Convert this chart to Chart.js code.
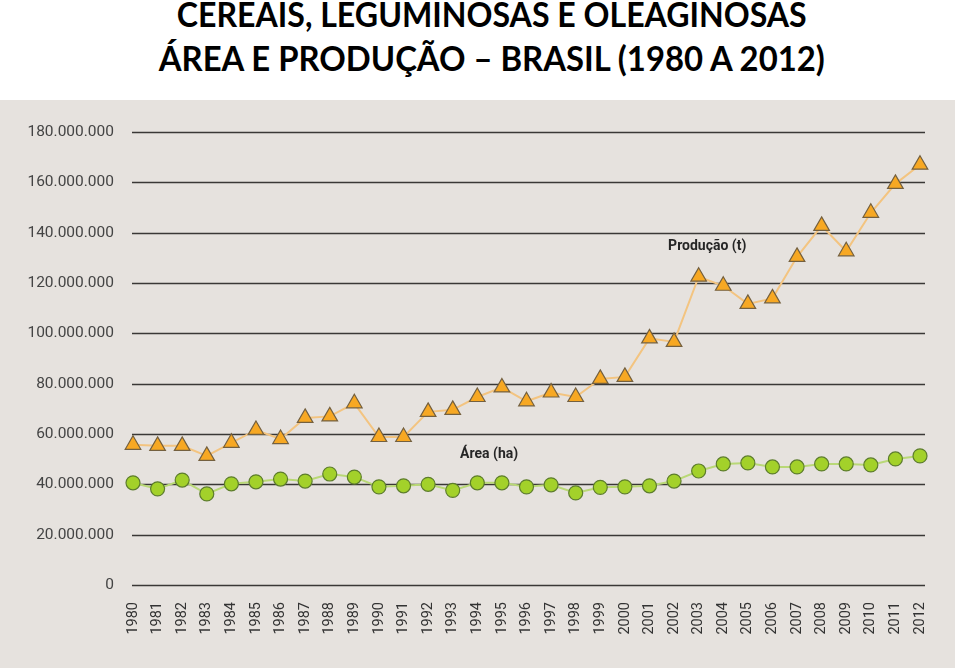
<!DOCTYPE html>
<html>
<head>
<meta charset="utf-8">
<script src="https://cdn.jsdelivr.net/npm/chart.js@4.4.1/dist/chart.umd.min.js"></script>
<style>
  body { margin: 0; background: #fff; width: 960px; height: 671px; overflow: hidden; position: relative; }
  #title { position: absolute; left: 12px; top: -8px; width: 960px; text-align: center;
           font-family: Lato, "Open Sans", sans-serif; font-weight: bold; font-size: 34px;
           line-height: 44px; color: #000; }
  #title span { display: inline-block; white-space: nowrap; transform-origin: center; }
  #panel { position: absolute; left: 0; top: 100px; width: 955px; height: 568px; background: #e6e2de; }
</style>
</head>
<body>
<div id="title">
  <div><span data-w="630">CEREAIS, LEGUMINOSAS E OLEAGINOSAS</span></div>
  <div><span data-w="666">ÁREA E PRODUÇÃO – BRASIL (1980 A 2012)</span></div>
</div>
<div id="panel"><canvas id="grafico" width="955" height="568"></canvas></div>
<script>
// ----- dados -----
const anos = ['1980','1981','1982','1983','1984','1985','1986','1987','1988','1989',
              '1990','1991','1992','1993','1994','1995','1996','1997','1998','1999',
              '2000','2001','2002','2003','2004','2005','2006','2007','2008','2009',
              '2010','2011','2012'];

// Produção (t)
const producao = [55.7, 55.3, 55.3, 51.3, 56.5, 61.6, 58.0, 66.4, 67.0, 72.2,
                  58.8, 58.8, 68.8, 69.6, 74.7, 78.5, 73.0, 76.5, 74.7, 81.9,
                  82.7, 98.0, 96.6, 122.5, 118.9, 111.7, 113.9, 130.4, 142.7, 132.6,
                  147.9, 159.4, 167.0].map(v => v * 1e6);

// Área (ha)
const area = [40.6, 38.2, 41.7, 36.2, 40.2, 41.0, 42.1, 41.3, 44.1, 42.9,
              39.0, 39.4, 40.0, 37.6, 40.6, 40.6, 39.0, 39.8, 36.6, 38.8,
              39.0, 39.4, 41.3, 45.3, 48.1, 48.5, 46.9, 46.9, 48.1, 48.1,
              47.7, 50.1, 51.3].map(v => v * 1e6);

// marcas do eixo Y
const yMin = 0;
const yMax = 180000000;
const yPasso = 20000000;

// ajusta a largura das linhas do título
document.querySelectorAll('#title span').forEach(function(s) {
    const alvo = parseFloat(s.dataset.w);
    const largura = s.getBoundingClientRect().width;
    s.style.transform = 'scaleX(' + (alvo / largura) + ')';
});

function formataNumero(v) {
    return String(Math.round(v)).replace(/\B(?=(\d{3})+(?!\d))/g, '.');
}

// linhas horizontais um pouco mais largas que a área dos pontos
const gradePlugin = {
    id: 'grade',
    beforeDatasetsDraw(chart) {
        const ctx = chart.ctx;
        const y = chart.scales.y;
        const area = chart.chartArea;
        ctx.save();
        ctx.strokeStyle = '#3a3836';
        ctx.lineWidth = 1.6;
        y.ticks.forEach(function(t) {
            const py = Math.round(y.getPixelForValue(t.value)) + 0.5;
            ctx.beginPath();
            ctx.moveTo(area.left - 1, py);
            ctx.lineTo(area.right + 5, py);
            ctx.stroke();
        });
        ctx.restore();
    }
};

// rótulos "Produção (t)" e "Área (ha)" dentro da área do gráfico
const rotulosPlugin = {
    id: 'rotulos',
    afterDatasetsDraw(chart) {
        const ctx = chart.ctx;
        const x = chart.scales.x;
        const y = chart.scales.y;
        ctx.save();
        ctx.font = 'bold 14px Roboto, sans-serif';
        ctx.fillStyle = '#262626';
        ctx.textAlign = 'center';
        ctx.textBaseline = 'middle';
        ctx.fillText('Produção (t)', x.getPixelForValue(23.35), y.getPixelForValue(134400000));
        ctx.fillText('Área (ha)', x.getPixelForValue(14.48), y.getPixelForValue(51700000));
        ctx.restore();
    }
};

new Chart(document.getElementById('grafico'), {
    type: 'line',
    data: {
        labels: anos,
        datasets: [
            {
                label: 'Área (ha)',
                data: area,
                borderColor: '#b9d877',
                borderWidth: 2,
                pointStyle: 'circle',
                pointRadius: 7,
                pointBackgroundColor: '#a3d12a',
                pointBorderColor: '#5d7d2c',
                pointBorderWidth: 1.2,
                tension: 0
            },
            {
                label: 'Produção (t)',
                data: producao,
                borderColor: '#f3c480',
                borderWidth: 2,
                pointStyle: 'triangle',
                pointRadius: 9,
                pointBackgroundColor: '#f7a823',
                pointBorderColor: '#74603f',
                pointBorderWidth: 1.2,
                tension: 0
            }
        ]
    },
    options: {
        responsive: false,
        devicePixelRatio: 1,
        animation: false,
        layout: { padding: { top: 32, right: 35, left: 0, bottom: 0 } },
        plugins: {
            legend: { display: false },
            tooltip: { enabled: false }
        },
        scales: {
            x: {
                offset: false,
                afterFit(s) { s.height = 83; },
                grid: { display: false, drawTicks: false },
                border: { display: false },
                ticks: {
                    autoSkip: false,
                    minRotation: 90,
                    maxRotation: 90,
                    padding: 17,
                    color: '#333',
                    font: { family: 'Roboto, sans-serif', size: 14.5 }
                }
            },
            y: {
                min: yMin,
                max: yMax,
                afterFit(s) { s.width = 133; },
                grid: { display: false, drawTicks: false },
                border: { display: false },
                ticks: {
                    stepSize: yPasso,
                    padding: 19,
                    color: '#444',
                    font: { family: 'Roboto, sans-serif', size: 15.5 },
                    callback: v => formataNumero(v)
                }
            }
        }
    },
    plugins: [gradePlugin, rotulosPlugin]
});
</script>
</body>
</html>
